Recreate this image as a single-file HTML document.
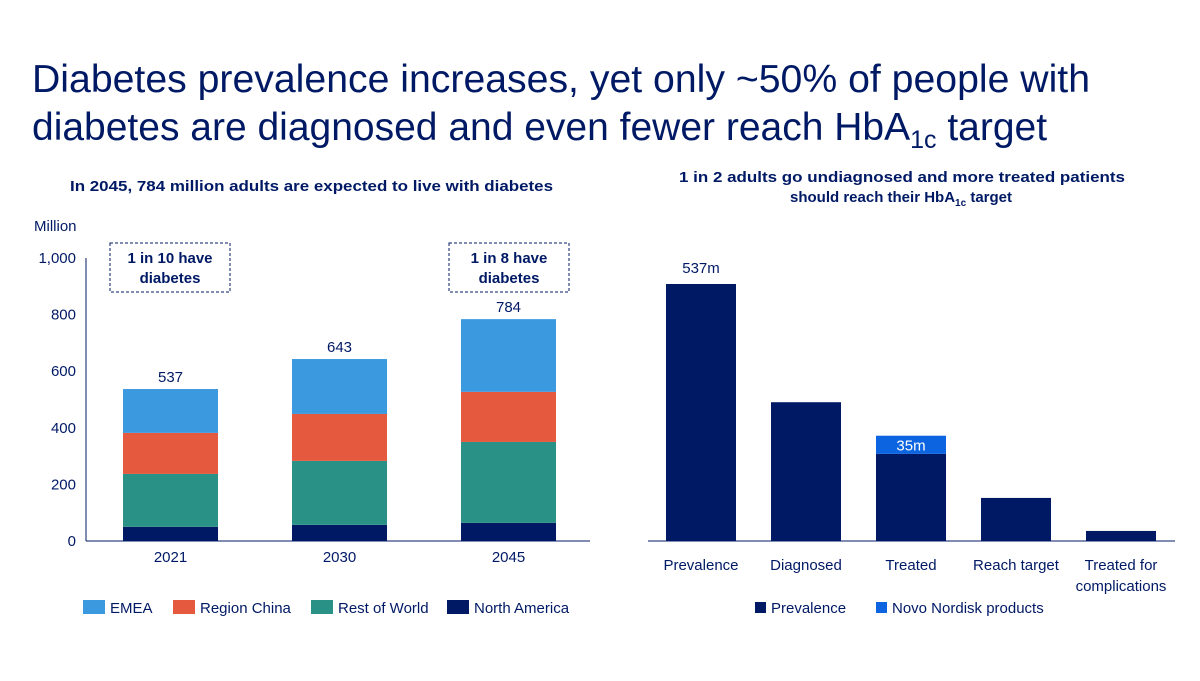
<!DOCTYPE html>
<html><head><meta charset="utf-8"><style>
body{margin:0;width:1200px;height:676px;background:#fff;overflow:hidden;font-family:"Liberation Sans","DejaVu Sans",sans-serif;color:#001965}
svg text{font-family:"Liberation Sans","DejaVu Sans",sans-serif}
</style></head><body>
<svg width="1200" height="676">
<text x="32" y="92" font-size="39" fill="#001965" textLength="1058" lengthAdjust="spacingAndGlyphs">Diabetes prevalence increases, yet only ~50% of people with</text>
<text x="32" y="140" font-size="39" fill="#001965">diabetes are diagnosed and even fewer reach HbA<tspan font-size="25" dy="8">1c</tspan><tspan dy="-8"> target</tspan></text>
<text x="70" y="191" font-size="15" font-weight="bold" fill="#001965" textLength="483" lengthAdjust="spacingAndGlyphs">In 2045, 784 million adults are expected to live with diabetes</text>
<text x="679" y="182" font-size="15" font-weight="bold" fill="#001965" textLength="446" lengthAdjust="spacingAndGlyphs">1 in 2 adults go undiagnosed and more treated patients</text>
<text x="901" y="202" font-size="15" font-weight="bold" text-anchor="middle" fill="#001965">should reach their HbA<tspan font-size="10" dy="4">1c</tspan><tspan dy="-4"> target</tspan></text>
<text x="34" y="231" font-size="15" fill="#001965">Million</text>
<g id="left"></g>
<g id="right"></g>
<g>
<rect x="110" y="243" width="120" height="49" fill="none" stroke="#001965" stroke-dasharray="3,2"/>
<text x="170" y="263" font-size="15" font-weight="bold" text-anchor="middle" fill="#001965">1 in 10 have</text>
<text x="170" y="283" font-size="15" font-weight="bold" text-anchor="middle" fill="#001965">diabetes</text></g>
<g>
<rect x="449" y="243" width="120" height="49" fill="none" stroke="#001965" stroke-dasharray="3,2"/>
<text x="509" y="263" font-size="15" font-weight="bold" text-anchor="middle" fill="#001965">1 in 8 have</text>
<text x="509" y="283" font-size="15" font-weight="bold" text-anchor="middle" fill="#001965">diabetes</text></g>
</svg>
<script>
const years=["2021","2030","2045"];
const northAmerica=[50,57,64];
const restOfWorld=[187,226,286];
const regionChina=[145,166,177];
const emea=[155,194,257];
const totals=[537,643,784];
const yTicks=[0,200,400,600,800,1000];
const yTickLabels=["0","200","400","600","800","1,000"];
const funnelCats=[["Prevalence"],["Diagnosed"],["Treated"],["Reach target"],["Treated for","complications"]];
const funnelValues=[537,290,182,90,21];
const novoValues=[0,0,38,0,0];
const funnelLabels=["537m","","35m","",""];

const NS="http://www.w3.org/2000/svg";
function mk(p,t,a,txt){const e=document.createElementNS(NS,t);for(const k in a)e.setAttribute(k,a[k]);if(txt!=null)e.textContent=txt;p.appendChild(e);return e;}
const L=document.getElementById('left'),R=document.getElementById('right');
const y0=541,yScale=v=>y0-v*0.283;
const xL=i=>123+i*169, bw=95;
mk(L,'line',{x1:86,y1:258,x2:86,y2:541,stroke:'#001965'});
mk(L,'line',{x1:86,y1:541,x2:590,y2:541,stroke:'#001965'});
yTicks.forEach((t,i)=>{const e=mk(L,'text',{x:76,y:yScale(t)+5,'font-size':15,'text-anchor':'end',fill:'#001965'},yTickLabels[i]);

});
const series=[[northAmerica,'#001965','north-america'],[restOfWorld,'#2a9187','rest-of-world'],[regionChina,'#e55a3f','region-china'],[emea,'#3b99e0','emea']];
years.forEach((y,i)=>{let acc=0;series.forEach(s=>{const v=s[0][i];const r=mk(L,'rect',{x:xL(i),y:yScale(acc+v),width:bw,height:v*0.283,fill:s[1]});

acc+=v;});
const tl=mk(L,'text',{x:xL(i)+bw/2,y:yScale(totals[i])-7,'font-size':15,'text-anchor':'middle',fill:'#001965'},totals[i]);


const xl=mk(L,'text',{x:xL(i)+bw/2,y:562,'font-size':15,'text-anchor':'middle',fill:'#001965'},y);

});
[['EMEA','#3b99e0',83],['Region China','#e55a3f',173],['Rest of World','#2a9187',311],['North America','#001965',447]].forEach(l=>{
const g=mk(L,'g',{});

mk(g,'rect',{x:l[2],y:600,width:22,height:14,fill:l[1]});mk(g,'text',{x:l[2]+27,y:613,'font-size':15,fill:'#001965'},l[0]);});
const rScale=v=>257*v/537, xR=i=>666+i*105;
mk(R,'line',{x1:648,y1:541,x2:1175,y2:541,stroke:'#001965'});
funnelValues.forEach((v,i)=>{const b=mk(R,'rect',{x:xR(i),y:y0-rScale(v),width:70,height:rScale(v),fill:'#001965'});


if(novoValues[i]>0){const n=mk(R,'rect',{x:xR(i),y:y0-rScale(v+novoValues[i]),width:70,height:rScale(novoValues[i]),fill:'#0d64e0'});


mk(R,'text',{x:xR(i)+35,y:y0-rScale(v+novoValues[i])+15,'font-size':15,'text-anchor':'middle',fill:'#fff'},funnelLabels[i]);}
else if(funnelLabels[i]){mk(R,'text',{x:xR(i)+35,y:y0-rScale(v)-11,'font-size':15,'text-anchor':'middle',fill:'#001965'},funnelLabels[i]);}
funnelCats[i].forEach((c,j)=>{const t=mk(R,'text',{x:xR(i)+35,y:570+j*21,'font-size':15,'text-anchor':'middle',fill:'#001965'},c);

});});
[['Prevalence','#001965',755],['Novo Nordisk products','#0d64e0',876]].forEach(l=>{
const g=mk(R,'g',{});

mk(g,'rect',{x:l[2],y:602,width:11,height:11,fill:l[1]});mk(g,'text',{x:l[2]+16,y:613,'font-size':15,fill:'#001965'},l[0]);});
</script>
</body></html>
